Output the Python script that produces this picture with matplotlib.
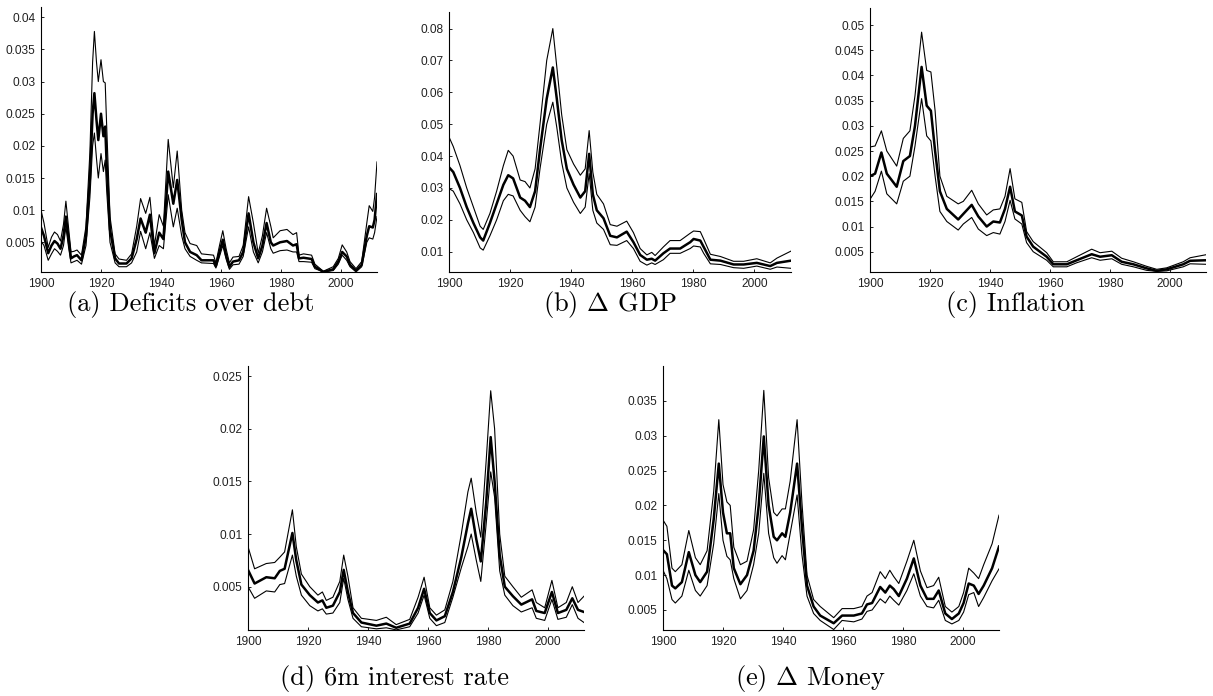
import numpy as np
import matplotlib
matplotlib.use("Agg")
import matplotlib.pyplot as plt

plt.rcParams['mathtext.fontset'] = 'cm'

# (a) Deficits over debt
yrs_a = [1900, 1901, 1902.4, 1903.5, 1904.5, 1905.5, 1906.5, 1907.5, 1908.3, 1909.2,
         1910, 1911, 1912, 1913.5, 1915, 1916.3, 1917.2, 1917.8, 1918.5, 1919.1,
         1920, 1920.8, 1921.4, 1921.9, 1923, 1924.7, 1926, 1928.5, 1930.2, 1931.9,
         1933.2, 1934.9, 1936.3, 1937.8, 1939.4, 1940.8, 1942.4, 1944.1, 1945.4, 1946.9,
         1948, 1949.7, 1951.9, 1953.5, 1957.5, 1958.3, 1959.5, 1960.6, 1961.7, 1962.8,
         1964, 1966, 1967.4, 1969.2, 1970.8, 1972.4, 1973.8, 1975.2, 1976.6, 1977.4,
         1979.7, 1982, 1984, 1985.2, 1986, 1987.5, 1990.2, 1991.3, 1994.1, 1997.4,
         1999.1, 2000.4, 2001.9, 2003, 2005, 2006.9, 2008.6, 2009.4, 2010.6, 2011.2, 2012]
mid_a = [.0073, .0060, .0033, .0045, .0052, .0048, .0040, .0060, .0090, .0055,
         .0025, .0028, .0030, .0022, .0060, .0150, .0250, .0282, .0240, .0209,
         .0250, .0215, .0230, .0170, .0070, .0025, .0017, .0017, .0025, .0055,
         .0087, .0065, .0093, .0033, .0065, .0055, .0160, .0110, .0147, .0085,
         .0050, .0035, .0030, .0022, .0022, .0013, .0035, .0054, .0030, .0012,
         .0020, .0022, .0035, .0095, .0050, .0025, .0045, .0080, .0050, .0045,
         .0050, .0052, .0045, .0047, .0025, .0026, .0024, .0012, .0004, .0008,
         .0020, .0035, .0028, .0015, .0006, .0015, .0060, .0075, .0073, .0085, .0125]
hi_a = [.0100, .0080, .0042, .0058, .0066, .0062, .0052, .0078, .0114, .0072,
        .0035, .0036, .0038, .0030, .0075, .0190, .0330, .0378, .0330, .0300,
        .0334, .0300, .0298, .0230, .0090, .0032, .0024, .0022, .0032, .0075,
        .0118, .0095, .0120, .0045, .0093, .0075, .0210, .0135, .0192, .0100,
        .0065, .0048, .0045, .0032, .0030, .0018, .0045, .0068, .0040, .0018,
        .0027, .0028, .0045, .0121, .0080, .0033, .0060, .0103, .0075, .0057,
        .0068, .0070, .0062, .0065, .0030, .0032, .0030, .0016, .0005, .0012,
        .0025, .0046, .0035, .0020, .0009, .0020, .0080, .0107, .0098, .0120, .0175]
lo_a = [.0052, .0045, .0022, .0032, .0040, .0036, .0030, .0045, .0074, .0042,
        .0018, .0020, .0022, .0016, .0045, .0120, .0200, .0220, .0180, .0150,
        .0188, .0160, .0178, .0130, .0050, .0018, .0012, .0012, .0018, .0035,
        .0067, .0040, .0065, .0025, .0045, .0040, .0124, .0074, .0103, .0060,
        .0040, .0028, .0022, .0018, .0017, .0010, .0028, .0045, .0024, .0008,
        .0015, .0016, .0028, .0074, .0035, .0018, .0035, .0065, .0040, .0033,
        .0037, .0038, .0035, .0035, .0020, .0020, .0019, .0009, .0004, .0006,
        .0016, .0030, .0022, .0012, .0004, .0012, .0050, .0057, .0055, .0065, .0090]

# (b) Delta GDP
yrs_b = [1900, 1901.4, 1903.6, 1905.8, 1908, 1910.2, 1911.2, 1913.4, 1915.6, 1917.8,
         1919.4, 1921, 1923.3, 1924.9, 1926.5, 1928.2, 1929.8, 1932, 1934, 1935.3,
         1936.9, 1938.6, 1940.8, 1943, 1944.6, 1945.9, 1947.1, 1948.4, 1950.6, 1952.8,
         1955, 1958.2, 1960.4, 1962.6, 1964.8, 1966.4, 1967.5, 1970.2, 1972.4, 1975.7,
         1979, 1980.1, 1982.3, 1983.4, 1985.6, 1988.9, 1993.2, 1996.5, 2000.8, 2005.2,
         2007.4, 2012]
mid_b = [.0365, .0350, .0300, .0240, .0190, .0145, .0135, .0190, .0250, .0310,
         .0340, .0330, .0270, .0260, .0240, .0290, .0420, .0580, .0678, .0580,
         .0450, .0360, .0310, .0270, .0290, .0407, .0280, .0230, .0205, .0150,
         .0145, .0163, .0130, .0090, .0075, .0078, .0072, .0095, .0110, .0110,
         .0130, .0140, .0135, .0115, .0075, .0072, .0060, .0060, .0065, .0055,
         .0065, .0072]
hi_b = [.0460, .0430, .0370, .0300, .0240, .0180, .0170, .0220, .0290, .0370,
        .0418, .0400, .0325, .0320, .0300, .0360, .0500, .0700, .0800, .0680,
        .0530, .0420, .0375, .0340, .0360, .0480, .0350, .0280, .0250, .0185,
        .0180, .0196, .0160, .0110, .0090, .0098, .0088, .0115, .0135, .0135,
        .0158, .0165, .0163, .0140, .0092, .0085, .0070, .0070, .0078, .0065,
        .0080, .0102]
lo_b = [.0298, .0290, .0250, .0200, .0160, .0112, .0105, .0150, .0200, .0260,
        .0280, .0275, .0230, .0210, .0194, .0240, .0360, .0500, .0569, .0490,
        .0380, .0300, .0255, .0220, .0240, .0345, .0230, .0190, .0170, .0122,
        .0120, .0135, .0110, .0070, .0058, .0065, .0060, .0075, .0095, .0095,
        .0110, .0118, .0115, .0095, .0062, .0060, .0050, .0048, .0055, .0045,
        .0052, .0048]

# (c) Inflation
yrs_c = [1900, 1901.7, 1903.8, 1905.6, 1908.9, 1911.1, 1913.3, 1915, 1917.2, 1918.9,
         1920.3, 1921.7, 1923.3, 1925.6, 1929.4, 1931.1, 1933.9, 1936.1, 1938.9, 1941.1,
         1943.3, 1945, 1946.7, 1948.3, 1950.6, 1952.2, 1954.4, 1958.9, 1961.1, 1965.6,
         1968.9, 1973.9, 1976.7, 1980.6, 1983.9, 1987.8, 1992.2, 1995.6, 1998.9, 2004.4,
         2006.7, 2012]
mid_c = [.0200, .0205, .0247, .0205, .0179, .0230, .0240, .0300, .0417, .0340,
         .0330, .0250, .0170, .0135, .0114, .0125, .0143, .0120, .0100, .0110,
         .0108, .0135, .0179, .0130, .0122, .0080, .0060, .0040, .0025, .0025,
         .0033, .0045, .0040, .0043, .0030, .0025, .0017, .0012, .0015, .0025,
         .0032, .0033]
hi_c = [.0258, .0260, .0290, .0250, .0220, .0275, .0290, .0360, .0486, .0410,
        .0407, .0330, .0200, .0160, .0145, .0150, .0172, .0145, .0123, .0133,
        .0135, .0160, .0215, .0155, .0148, .0090, .0070, .0048, .0030, .0030,
        .0040, .0055, .0048, .0051, .0037, .0030, .0021, .0015, .0018, .0030,
        .0038, .0044]
lo_c = [.0154, .0170, .0210, .0165, .0145, .0190, .0200, .0260, .0354, .0280,
        .0270, .0200, .0130, .0110, .0093, .0105, .0118, .0095, .0082, .0088,
        .0085, .0110, .0152, .0115, .0105, .0068, .0050, .0033, .0020, .0020,
        .0028, .0038, .0033, .0036, .0025, .0020, .0013, .0011, .0012, .0020,
        .0026, .0025]

# (d) 6m interest rate
yrs_d = [1900, 1902.2, 1906.1, 1908.9, 1910.6, 1912.2, 1914.8, 1916.1, 1917.8, 1920.6,
         1923.3, 1924.8, 1926.1, 1928.3, 1930.6, 1931.9, 1933.3, 1935, 1937.8, 1942.8,
         1946.1, 1949.4, 1953.9, 1956.7, 1958.7, 1960.6, 1962.8, 1965.6, 1968.3, 1971.1,
         1973.3, 1974.4, 1976.1, 1977.6, 1979.4, 1980.9, 1982.2, 1983.9, 1985.6, 1988.3,
         1991.1, 1994.7, 1996.1, 1998.9, 2001.3, 2003.3, 2006.1, 2008.1, 2010, 2012]
mid_d = [.0066, .0053, .0059, .0058, .0065, .0067, .0101, .0075, .0052, .0042,
         .0035, .0037, .0030, .0032, .0045, .0066, .0045, .0025, .0016, .0013,
         .0015, .0011, .0015, .0030, .0048, .0025, .0018, .0022, .0045, .0078,
         .0110, .0124, .0095, .0074, .0130, .0192, .0150, .0080, .0050, .0041,
         .0033, .0038, .0027, .0025, .0045, .0025, .0028, .0039, .0028, .0026]
hi_d = [.0088, .0067, .0072, .0073, .0078, .0083, .0123, .0088, .0062, .0050,
        .0042, .0045, .0037, .0040, .0055, .0080, .0060, .0030, .0020, .0018,
        .0021, .0014, .0019, .0040, .0059, .0030, .0023, .0028, .0055, .0100,
        .0140, .0153, .0120, .0097, .0170, .0236, .0200, .0100, .0060, .0050,
        .0040, .0047, .0035, .0030, .0056, .0030, .0035, .0050, .0035, .0041]
lo_d = [.0050, .0039, .0046, .0045, .0052, .0053, .0080, .0060, .0042, .0032,
        .0027, .0029, .0024, .0025, .0035, .0058, .0038, .0020, .0012, .0010,
        .0011, .0009, .0012, .0025, .0042, .0020, .0013, .0016, .0040, .0068,
        .0088, .0100, .0075, .0055, .0110, .0159, .0135, .0065, .0042, .0032,
        .0026, .0030, .0020, .0018, .0038, .0019, .0021, .0033, .0020, .0016]

# (e) Delta Money
yrs_e = [1900, 1901.3, 1903, 1904.1, 1906.3, 1908.6, 1910.8, 1912.4, 1914.7, 1916.9,
         1918.6, 1920, 1921.3, 1922.4, 1923.6, 1925.8, 1928, 1930.2, 1931.9, 1933.6,
         1935.2, 1936.9, 1938, 1939.7, 1940.8, 1942.4, 1944.7, 1946.3, 1948, 1950.2,
         1952.4, 1956.9, 1959.7, 1963.6, 1966.3, 1968, 1969.7, 1972.4, 1974.1, 1975.6,
         1976.9, 1978.6, 1981.3, 1983.6, 1985.8, 1988, 1990.2, 1991.9, 1994.1, 1996.3,
         1998.6, 2000.2, 2001.9, 2003.6, 2005.2, 2006.9, 2009.7, 2012]
mid_e = [.0136, .0130, .0085, .0081, .0090, .0133, .0100, .0090, .0105, .0180,
         .0260, .0190, .0160, .0160, .0110, .0087, .0100, .0135, .0200, .0299,
         .0200, .0155, .0150, .0160, .0155, .0190, .0260, .0170, .0085, .0055,
         .0042, .0031, .0042, .0042, .0045, .0058, .0060, .0083, .0075, .0085,
         .0080, .0070, .0095, .0124, .0085, .0066, .0066, .0078, .0045, .0037,
         .0045, .0060, .0088, .0085, .0073, .0085, .0110, .0141]
hi_e = [.0179, .0170, .0110, .0105, .0115, .0164, .0125, .0115, .0135, .0220,
        .0323, .0230, .0205, .0200, .0140, .0115, .0120, .0165, .0250, .0365,
        .0240, .0190, .0185, .0195, .0195, .0235, .0323, .0205, .0100, .0065,
        .0055, .0039, .0052, .0052, .0055, .0070, .0075, .0105, .0095, .0107,
        .0098, .0088, .0120, .0150, .0106, .0082, .0085, .0097, .0055, .0047,
        .0055, .0075, .0110, .0103, .0095, .0115, .0145, .0186]
lo_e = [.0107, .0095, .0065, .0060, .0070, .0107, .0078, .0070, .0085, .0145,
        .0217, .0150, .0127, .0122, .0095, .0066, .0078, .0115, .0160, .0246,
        .0160, .0125, .0117, .0128, .0122, .0160, .0215, .0130, .0070, .0045,
        .0035, .0022, .0035, .0033, .0037, .0048, .0050, .0066, .0060, .0070,
        .0064, .0057, .0078, .0102, .0070, .0055, .0053, .0064, .0035, .0030,
        .0035, .0047, .0072, .0075, .0055, .0068, .0092, .0109]

captions = ['(a) Deficits over debt', r'(b) $\Delta$ GDP', '(c) Inflation',
            '(d) 6m interest rate', r'(e) $\Delta$ Money']

W, H = 1213, 696
fig = plt.figure(figsize=(W / 100, H / 100), dpi=100)


def add_panel(left, right, top, bottom, yrs, lo, mid, hi, ylim, yticks):
    ax = fig.add_axes([left / W, 1 - bottom / H, (right - left) / W, (bottom - top) / H])
    ax.plot(yrs, hi, color='black', lw=0.8)
    ax.plot(yrs, lo, color='black', lw=0.8)
    ax.plot(yrs, mid, color='black', lw=1.8)
    ax.set_xlim(1900, 2012)
    ax.set_ylim(*ylim)
    ax.set_xticks(range(1900, 2001, 20))
    ax.set_yticks(yticks)
    ax.set_yticklabels(['%g' % v for v in yticks])
    for s in ['top', 'right']:
        ax.spines[s].set_visible(False)
    for s in ['left', 'bottom']:
        ax.spines[s].set_linewidth(0.8)
    ax.tick_params(direction='in', length=2.5, width=0.6, labelsize=8.6, pad=4,
                   labelcolor='#222222')
    for lab in ax.get_xticklabels() + ax.get_yticklabels():
        lab.set_fontfamily('Liberation Sans')
    return ax


add_panel(41, 377, 7, 272, yrs_a, lo_a, mid_a, hi_a, (0.00038, 0.0416),
          [0.005, 0.01, 0.015, 0.02, 0.025, 0.03, 0.035, 0.04])
add_panel(449, 791, 12, 272, yrs_b, lo_b, mid_b, hi_b, (0.00364, 0.0852),
          [0.01, 0.02, 0.03, 0.04, 0.05, 0.06, 0.07, 0.08])
add_panel(870, 1206, 8, 272, yrs_c, lo_c, mid_c, hi_c, (0.00097, 0.0534),
          [0.005, 0.01, 0.015, 0.02, 0.025, 0.03, 0.035, 0.04, 0.045, 0.05])
add_panel(248, 584, 366, 630, yrs_d, lo_d, mid_d, hi_d, (0.00089, 0.02595),
          [0.005, 0.01, 0.015, 0.02, 0.025])
add_panel(663, 999, 366, 630, yrs_e, lo_e, mid_e, hi_e, (0.00213, 0.0400),
          [0.005, 0.01, 0.015, 0.02, 0.025, 0.03, 0.035])

cap_pos = [(191, 305), (610, 305), (1015, 305), (395, 678), (810, 678)]
for (cx, cy), txt in zip(cap_pos, captions):
    fig.text(cx / W, 1 - cy / H, txt, ha='center', va='center',
             fontfamily='cmr10', fontsize=19)

fig.savefig('out.png', dpi=100)
